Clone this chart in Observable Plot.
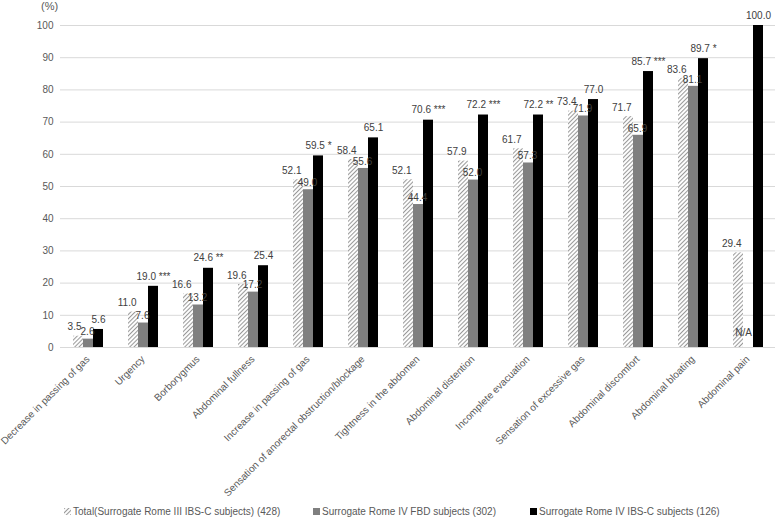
<!DOCTYPE html>
<html><head><meta charset="utf-8">
<script src="https://cdn.jsdelivr.net/npm/d3@7"></script>
<script src="https://cdn.jsdelivr.net/npm/@observablehq/plot@0.6"></script>
<style>
body{margin:0;background:#fff;font-family:"Liberation Sans",Arial,sans-serif;}
#wrap{position:relative;width:778px;height:517px;overflow:hidden;}
.leg{position:absolute;top:505px;font-size:10px;color:#595959;white-space:nowrap;line-height:14px;}
.sw{display:inline-block;width:7px;height:7px;margin-right:2px;vertical-align:0px;}
.ylab{position:absolute;left:41px;top:-1px;font-size:11px;color:#595959;line-height:14px;}
</style></head><body>
<svg width="0" height="0" style="position:absolute"><defs>
<pattern id="hatch" patternUnits="userSpaceOnUse" width="3" height="3" patternTransform="rotate(45)">
<rect width="3" height="3" fill="#fff"/><line x1="0.5" y1="0" x2="0.5" y2="3" stroke="#9a9a9a" stroke-width="1.1"/>
</pattern></defs></svg>
<div id="wrap"></div>
<script>
const categories = ["Decrease in passing of gas","Urgency","Borborygmus","Abdominal fullness","Increase in passing of gas","Sensation of anorectal obstruction/blockage","Tightness in the abdomen","Abdominal distention","Incomplete evacuation","Sensation of excessive gas","Abdominal discomfort","Abdominal bloating","Abdominal pain"];
const series = ["Total(Surrogate Rome III IBS-C subjects) (428)","Surrogate Rome IV FBD subjects (302)","Surrogate Rome IV IBS-C subjects (126)"];
const totalValues = [3.5,11.0,16.6,19.6,52.1,58.4,52.1,57.9,61.7,73.4,71.7,83.6,29.4];
const fbdValues = [2.6,7.6,13.2,17.2,49.0,55.6,44.4,52.0,57.3,71.9,65.9,81.1,null];
const ibscValues = [5.6,19.0,24.6,25.4,59.5,65.1,70.6,72.2,72.2,77.0,85.7,89.7,100.0];
const significance = ["","***","**","","*","","***","***","**","","***","*",""];
const yTicks = [0,10,20,30,40,50,60,70,80,90,100];
const yLabel = "(%)";

const rows = [];
[totalValues, fbdValues, ibscValues].forEach((vals, s) => {
  vals.forEach((v, i) => {
    rows.push({category: categories[i], series: series[s], si: s, value: v,
      label: v == null ? "N/A" : v.toFixed(1) + (s === 2 && significance[i] ? " " + significance[i] : "")});
  });
});
const rowsOf = s => rows.filter(d => d.si === s && d.value != null);
const naRows = rows.filter(d => d.value == null);

const labelStyle = {fill: "#404040", fontSize: 10};
const chart = Plot.plot({
  width: 778, height: 500,
  marginLeft: 59, marginRight: 2, marginTop: 25, marginBottom: 153,
  style: {fontFamily: "Liberation Sans, Arial, sans-serif", fontSize: "10px", color: "#595959", background: "#fff", overflow: "visible"},
  fx: {domain: categories, padding: 0, label: null, axis: "bottom", tickRotate: -45, tickSize: 0, tickPadding: 10},
  x: {domain: series, paddingInner: 0, paddingOuter: 1.1, axis: null},
  y: {domain: [0, 100], ticks: yTicks, tickSize: 0, tickPadding: 7, label: null},
  color: {domain: series, range: ["url(#hatch)", "#7f7f7f", "#000000"]},
  marks: [
    Plot.ruleY(yTicks.filter(t => t > 0), {stroke: "#d9d9d9", strokeWidth: 1}),
    Plot.ruleY([0], {stroke: "#d9d9d9", strokeWidth: 1}),
    Plot.barY(rows.filter(d => d.value != null), {fx: "category", x: "series", y: "value", fill: "series"}),
    Plot.text(rowsOf(0), {fx: "category", x: "series", y: "value", text: "label", textAnchor: "end", dx: 3, dy: -9, ...labelStyle}),
    Plot.text(rowsOf(1), {fx: "category", x: "series", y: "value", text: "label", dx: -1, dy: -7, ...labelStyle}),
    Plot.text(rowsOf(2), {fx: "category", x: "series", y: "value", text: "label", dy: -10, ...labelStyle}),
    Plot.text(naRows, {fx: "category", x: "series", y: () => 0, text: "label", dx: -5, dy: -15, ...labelStyle})
  ]
});
const wrap = document.getElementById("wrap");
wrap.appendChild(chart);
const yl = document.createElement("div");
yl.className = "ylab";
yl.textContent = yLabel;
wrap.appendChild(yl);
const legItems = [[64, "url(#hatch)"], [313, "#7f7f7f"], [530, "#000"]];
legItems.forEach(([left, fill], i) => {
  const d = document.createElement("div");
  d.className = "leg";
  d.style.left = left + "px";
  d.innerHTML = `<svg class="sw" width="7" height="7"><rect width="7" height="7" fill="${fill}"/></svg>`;
  d.appendChild(document.createTextNode(series[i]));
  wrap.appendChild(d);
});
</script>
</body></html>
